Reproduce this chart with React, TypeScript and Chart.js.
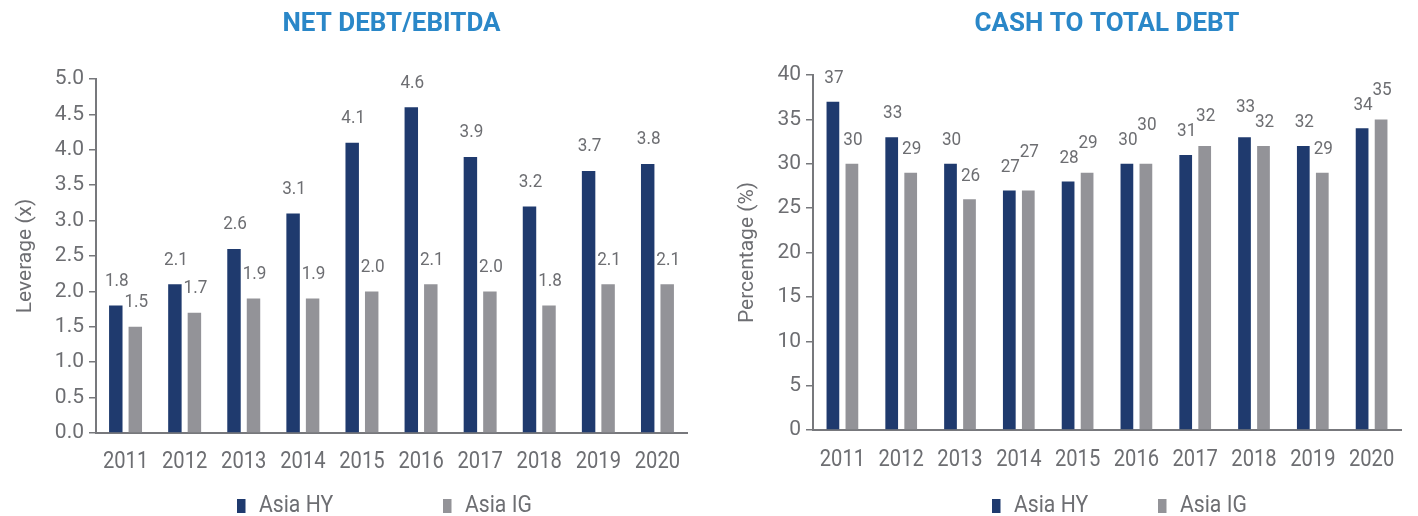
import React, { useEffect, useRef } from 'react';
import { Chart, registerables } from 'chart.js';

Chart.register(...registerables);

// ---------- data ----------
const years = ['2011', '2012', '2013', '2014', '2015', '2016', '2017', '2018', '2019', '2020'];
const seriesNames = ['Asia HY', 'Asia IG'];
const leverageHY = [1.8, 2.1, 2.6, 3.1, 4.1, 4.6, 3.9, 3.2, 3.7, 3.8];
const leverageIG = [1.5, 1.7, 1.9, 1.9, 2.0, 2.1, 2.0, 1.8, 2.1, 2.1];
const cashHY = [37, 33, 30, 27, 28, 30, 31, 33, 32, 34];
const cashIG = [30, 29, 26, 27, 29, 30, 32, 32, 29, 35];

// ---------- style ----------
const FONT = 'Roboto, "Noto Sans", sans-serif';
const NAVY = '#1f3a6e';
const GREY = '#939398';
const TEXT = '#6d6e72';
const AXIS = '#77787c';
const TITLE = '#2a87c8';
const X_LABEL_SIZE = 24;
const X_LABEL_SQUEEZE = 0.84;

type Spec = {
  title: string;
  yTitle: string;
  hy: number[];
  ig: number[];
  min: number;
  max: number;
  step: number;
  decimals: number;
  padLeft: number;
  padRight: number;
  yWidth: number;
  xHeight: number;
  xPad: number;
  titleTop: number;
  titleBottom: number;
  labelOffset: number;
  labelGap: number;
  cp: number;
  bp: number;
  legendX: number[];
};

// Draws text slightly condensed (the source uses a narrow DIN-like face)
function squeezedText(ctx: CanvasRenderingContext2D, text: string, x: number, y: number, sx: number) {
  ctx.save();
  ctx.translate(x, y);
  ctx.scale(sx, 1);
  ctx.fillText(text, 0, 0);
  ctx.restore();
}

// Narrow the category labels of the x axis (only font of that size)
const condenseAxisLabels = {
  id: 'condenseAxisLabels',
  beforeDraw(chart: any) {
    const ctx = chart.ctx as any;
    if (ctx.__condensed) return;
    const orig = ctx.fillText.bind(ctx);
    ctx.fillText = function (text: string, x: number, y: number, maxWidth?: number) {
      if (typeof ctx.font === 'string' && ctx.font.indexOf(`${X_LABEL_SIZE}px`) !== -1) {
        ctx.save();
        ctx.translate(x, y);
        ctx.scale(X_LABEL_SQUEEZE, 1);
        orig(text, 0, 0);
        ctx.restore();
      } else if (maxWidth !== undefined) {
        orig(text, x, y, maxWidth);
      } else {
        orig(text, x, y);
      }
    };
    ctx.__condensed = true;
  },
};

const valueLabels = (spec: Spec) => ({
  id: 'valueLabels',
  afterDatasetsDraw(chart: any) {
    const ctx = chart.ctx;
    const a = chart.getDatasetMeta(0).data;
    const b = chart.getDatasetMeta(1).data;
    const da = chart.data.datasets[0].data as number[];
    const db = chart.data.datasets[1].data as number[];
    ctx.save();
    ctx.font = `19px ${FONT}`;
    ctx.fillStyle = TEXT;
    ctx.textAlign = 'center';
    ctx.textBaseline = 'middle';
    a.forEach((barA: any, i: number) => {
      const barB = b[i];
      let ya = barA.y - spec.labelOffset;
      let yb = barB.y - spec.labelOffset;
      if (Math.abs(ya - yb) < spec.labelGap) {
        if (yb <= ya) yb = ya - spec.labelGap;
        else ya = yb - spec.labelGap;
      }
      squeezedText(ctx, da[i].toFixed(spec.decimals), barA.x + 1, ya, 0.9);
      squeezedText(ctx, db[i].toFixed(spec.decimals), barB.x + 1, yb, 0.9);
    });
    ctx.restore();
  },
});

const bottomLegend = (spec: Spec) => ({
  id: 'bottomLegend',
  afterDraw(chart: any) {
    const ctx = chart.ctx;
    const cy = chart.height - 11;
    ctx.save();
    ctx.font = `23px ${FONT}`;
    ctx.textAlign = 'left';
    ctx.textBaseline = 'middle';
    chart.data.datasets.forEach((ds: any, i: number) => {
      const x = spec.legendX[i];
      ctx.fillStyle = ds.backgroundColor;
      ctx.fillRect(x, cy - 6, 8.5, 14);
      ctx.fillStyle = TEXT;
      squeezedText(ctx, ds.label, x + 22, cy + 1, 0.92);
    });
    ctx.restore();
  },
});

function makeConfig(spec: Spec): any {
  return {
    type: 'bar',
    data: {
      labels: years,
      datasets: [
        {
          label: seriesNames[0],
          data: spec.hy,
          backgroundColor: NAVY,
          categoryPercentage: spec.cp,
          barPercentage: spec.bp,
        },
        {
          label: seriesNames[1],
          data: spec.ig,
          backgroundColor: GREY,
          categoryPercentage: spec.cp,
          barPercentage: spec.bp,
        },
      ],
    },
    options: {
      responsive: false,
      animation: false,
      layout: { padding: { left: spec.padLeft, right: spec.padRight, top: 0, bottom: 0 } },
      plugins: {
        legend: { display: false },
        tooltip: { enabled: false },
        title: {
          display: true,
          text: spec.title,
          color: TITLE,
          fullSize: false,
          font: { family: FONT, size: 26, weight: 'bold' },
          padding: { top: spec.titleTop, bottom: spec.titleBottom },
        },
      },
      scales: {
        x: {
          grid: { display: false, drawTicks: false },
          border: { display: true, color: AXIS, width: 2 },
          ticks: {
            color: TEXT,
            font: { family: FONT, size: X_LABEL_SIZE },
            padding: spec.xPad,
            maxRotation: 0,
            autoSkip: false,
          },
          afterFit: (s: any) => {
            s.height = spec.xHeight;
          },
        },
        y: {
          min: spec.min,
          max: spec.max,
          grid: {
            display: true,
            drawOnChartArea: false,
            drawTicks: true,
            tickLength: 7,
            color: AXIS,
            lineWidth: 1.5,
          },
          border: { display: true, color: AXIS, width: 2 },
          ticks: {
            stepSize: spec.step,
            color: TEXT,
            font: { family: FONT, size: 21 },
            padding: 5,
            callback: (v: any) => Number(v).toFixed(spec.decimals),
          },
          title: {
            display: true,
            text: spec.yTitle,
            color: TEXT,
            font: { family: FONT, size: 21 },
            padding: { top: 4, bottom: 0 },
          },
          afterFit: (s: any) => {
            s.width = spec.yWidth;
          },
        },
      },
    },
    plugins: [condenseAxisLabels, valueLabels(spec), bottomLegend(spec)],
  };
}

const leftSpec: Spec = {
  title: 'NET DEBT/EBITDA',
  yTitle: 'Leverage (x)',
  hy: leverageHY,
  ig: leverageIG,
  min: 0,
  max: 5,
  step: 0.5,
  decimals: 1,
  padLeft: 9,
  padRight: 22,
  yWidth: 87,
  xHeight: 83,
  xPad: 15,
  titleTop: 8.8,
  titleBottom: 39,
  labelOffset: 24.4,
  labelGap: 15,
  cp: 0.66,
  bp: 0.69,
  legendX: [237, 443],
};

const rightSpec: Spec = {
  title: 'CASH TO TOTAL DEBT',
  yTitle: 'Percentage (%)',
  hy: cashHY,
  ig: cashIG,
  min: 0,
  max: 40,
  step: 5,
  decimals: 0,
  padLeft: 22,
  padRight: 17,
  yWidth: 82,
  xHeight: 86,
  xPad: 15.5,
  titleTop: 8.8,
  titleBottom: 35,
  labelOffset: 23.5,
  labelGap: 15,
  cp: 0.646,
  bp: 0.67,
  legendX: [283, 449],
};

function ChartCanvas({ spec }: { spec: Spec }) {
  const ref = useRef<HTMLCanvasElement | null>(null);
  useEffect(() => {
    if (!ref.current) return;
    const chart = new Chart(ref.current, makeConfig(spec));
    return () => chart.destroy();
  }, [spec]);
  return (
    <canvas
      ref={ref}
      width={709}
      height={516}
      style={{ display: 'block', width: 709, height: 516 }}
    />
  );
}

export default function App() {
  return (
    <div
      style={{
        position: 'absolute',
        left: 0,
        top: 0,
        width: 1418,
        height: 516,
        display: 'flex',
        background: '#ffffff',
      }}
    >
      <ChartCanvas spec={leftSpec} />
      <ChartCanvas spec={rightSpec} />
    </div>
  );
}
